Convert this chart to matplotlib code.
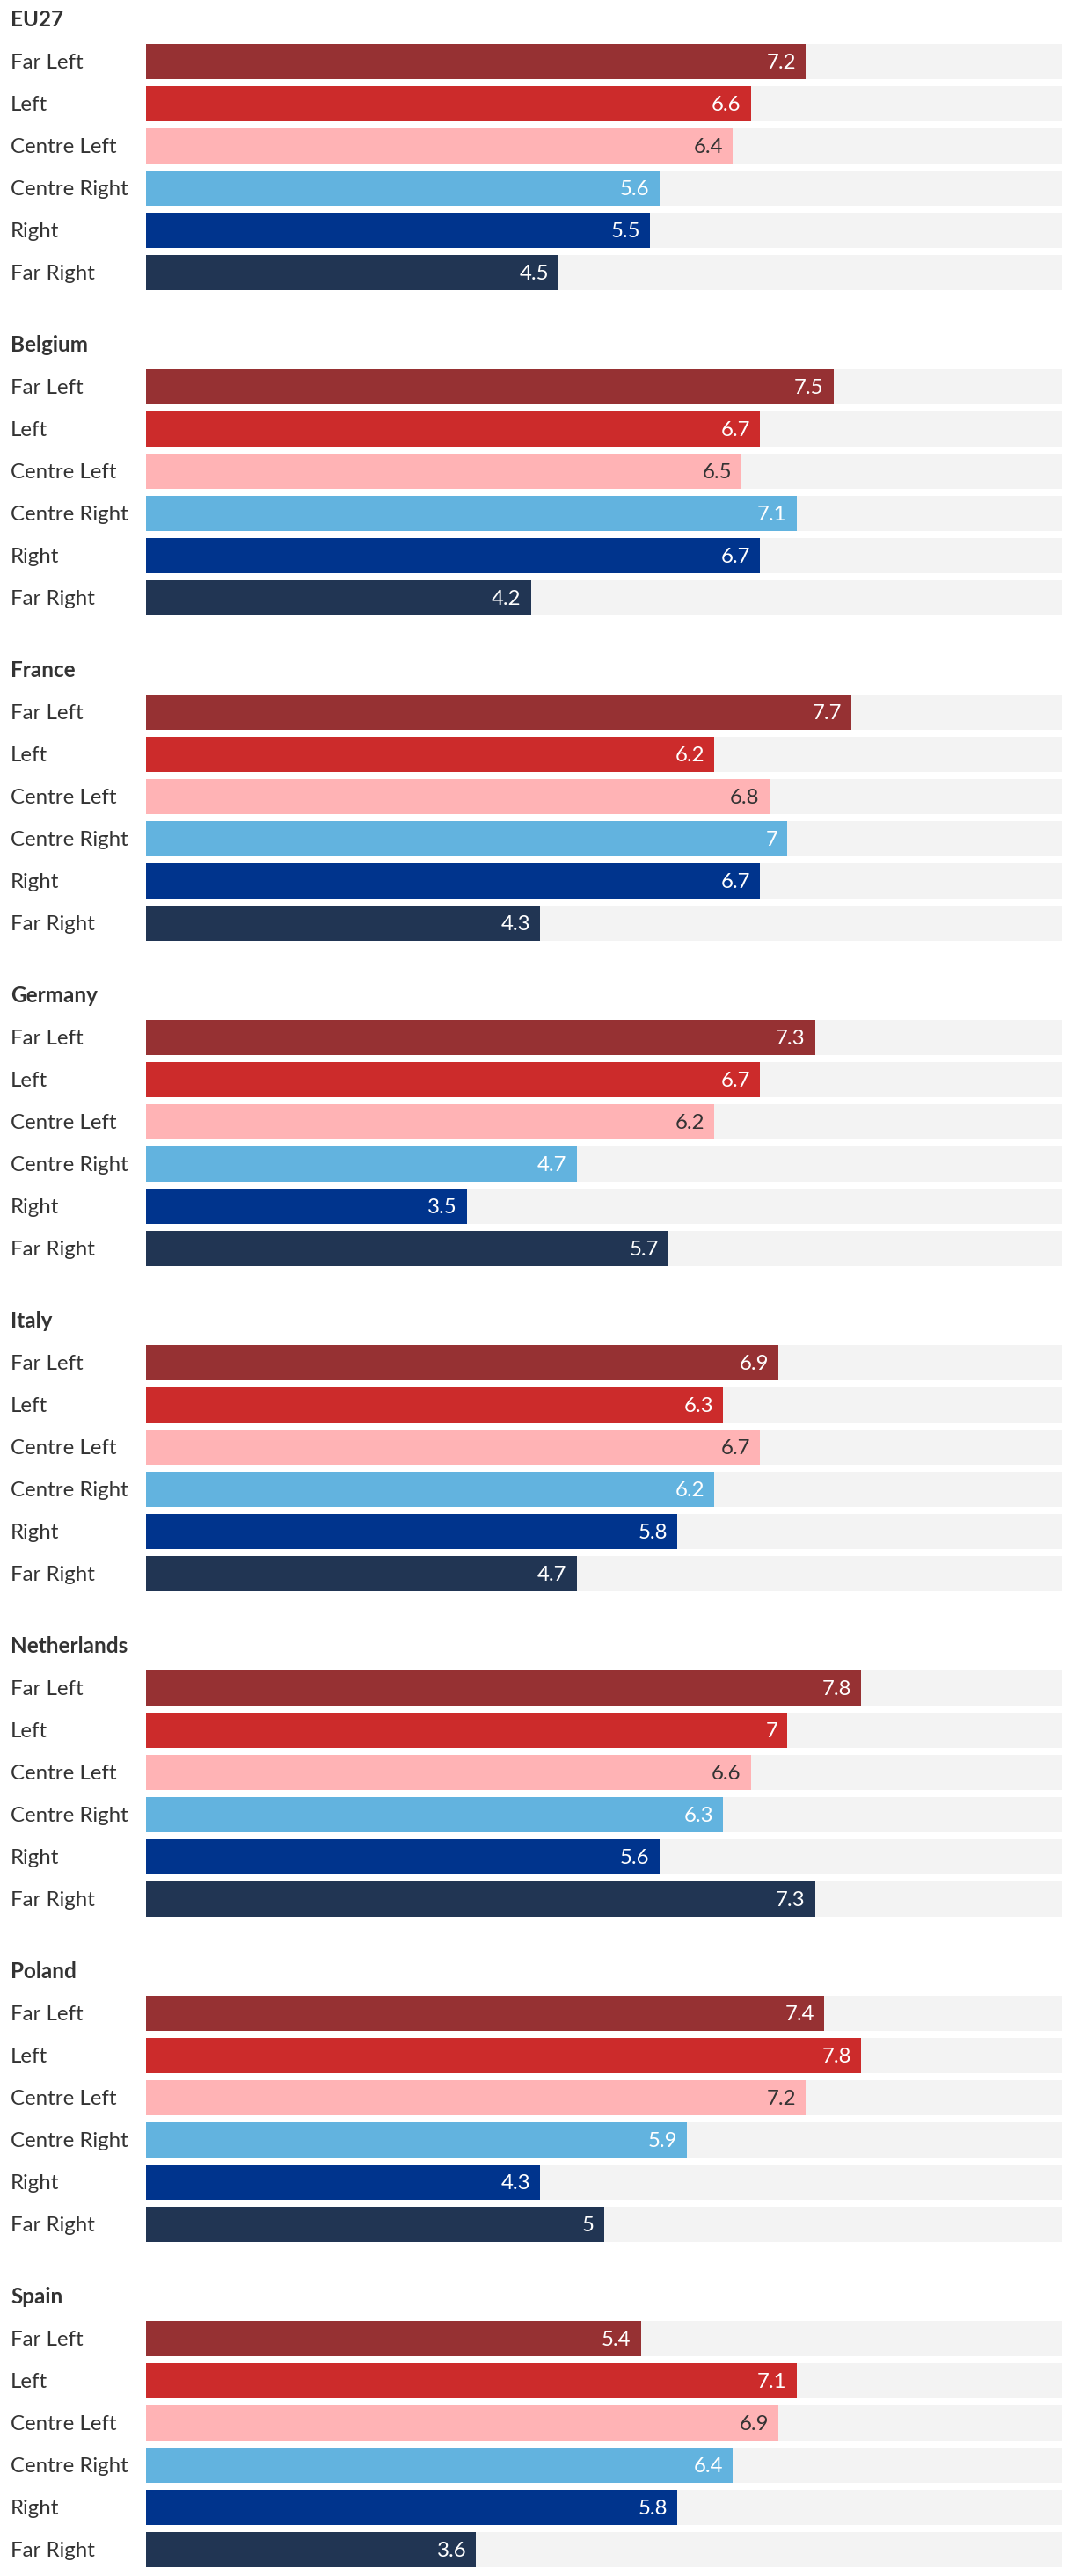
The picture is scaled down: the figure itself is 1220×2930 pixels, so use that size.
import matplotlib.pyplot as plt
from matplotlib.transforms import blended_transform_factory

plt.rcParams['font.family'] = ['Lato', 'DejaVu Sans']

# Data
countries = ['EU27', 'Belgium', 'France', 'Germany', 'Italy', 'Netherlands', 'Poland', 'Spain']
groups = ['Far Left', 'Left', 'Centre Left', 'Centre Right', 'Right', 'Far Right']
eu27 = [7.2, 6.6, 6.4, 5.6, 5.5, 4.5]
belgium = [7.5, 6.7, 6.5, 7.1, 6.7, 4.2]
france = [7.7, 6.2, 6.8, 7, 6.7, 4.3]
germany = [7.3, 6.7, 6.2, 4.7, 3.5, 5.7]
italy = [6.9, 6.3, 6.7, 6.2, 5.8, 4.7]
netherlands = [7.8, 7, 6.6, 6.3, 5.6, 7.3]
poland = [7.4, 7.8, 7.2, 5.9, 4.3, 5]
spain = [5.4, 7.1, 6.9, 6.4, 5.8, 3.6]
values = [eu27, belgium, france, germany, italy, netherlands, poland, spain]
scale_max = 10

colors = ['#963133', '#cc2b2b', '#ffb3b5', '#62b3df', '#00348d', '#213553']
text_colors = ['white', 'white', '#333333', 'white', 'white', 'white']
bg_color = '#f3f3f3'

W, H = 1220, 2930
fig = plt.figure(figsize=(W / 100, H / 100), dpi=100)

# layout in pixels
x0, x1 = 166, 1208
first_top = 50
panel_pitch = 370
pitch = 48
bar_px = 40
h = bar_px / pitch
n = len(groups)
panel_h = (n - 1) * pitch + bar_px

for i, (country, vals) in enumerate(zip(countries, values)):
    top = first_top + panel_pitch * i
    ax = fig.add_axes([x0 / W, 1 - (top + panel_h) / H, (x1 - x0) / W, panel_h / H])
    ypos = list(range(n))
    ax.barh(ypos, [scale_max] * n, height=h, color=bg_color, zorder=1)
    ax.barh(ypos, vals, height=h, color=colors, zorder=2)
    ax.set_xlim(0, scale_max)
    ax.set_ylim(n - 1 + h / 2, -h / 2)
    ax.axis('off')

    trans = blended_transform_factory(fig.transFigure, ax.transData)
    for j, (g, v) in enumerate(zip(groups, vals)):
        ax.annotate(g, xy=(12 / W, j), xycoords=trans, xytext=(0, -2),
                    textcoords='offset pixels', ha='left', va='center',
                    fontsize=17.3, color='#333333', annotation_clip=False)
        ax.annotate(f'{v:g}', xy=(v, j), xytext=(-11, -2), textcoords='offset pixels',
                    ha='right', va='center', fontsize=17.3, color=text_colors[j], zorder=3)

    fig.text(12 / W, 1 - (top - 27) / H, country, ha='left', va='center',
             fontsize=17.5, fontweight='bold', color='#333333')

fig.savefig('out.png', dpi=100)
